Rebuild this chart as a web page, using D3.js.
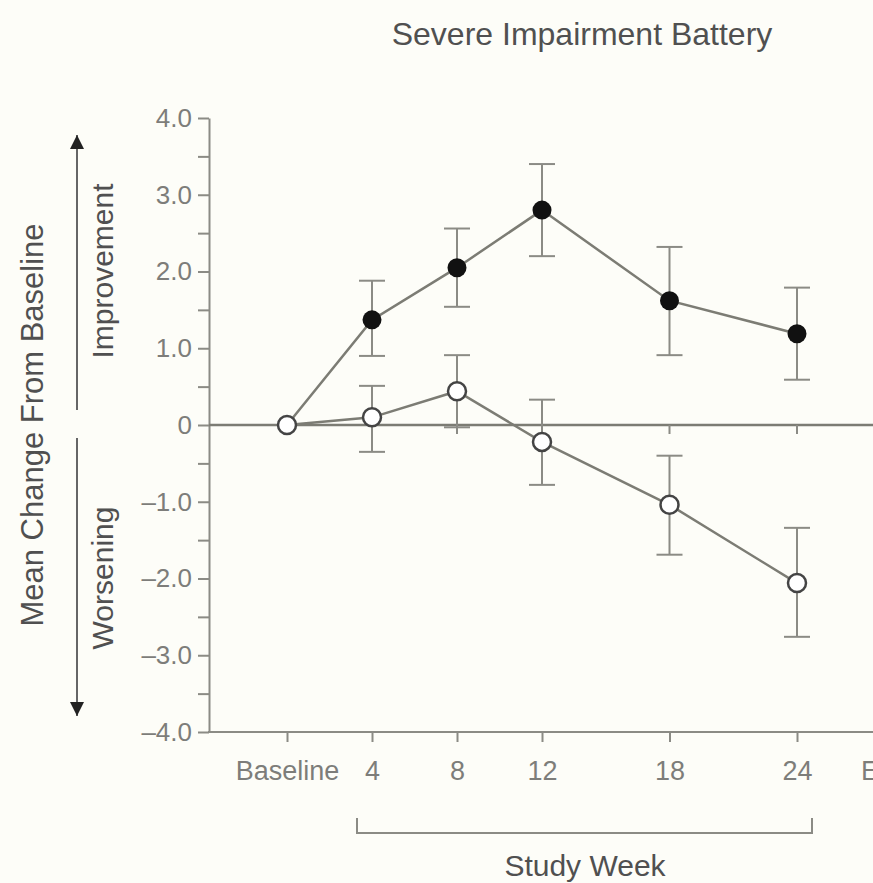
<!DOCTYPE html>
<html>
<head>
<meta charset="utf-8">
<script src="https://cdn.jsdelivr.net/npm/d3@7/dist/d3.min.js"></script>
<style>
  html, body { margin: 0; padding: 0; background: #fdfdf8; }
  svg { display: block; font-family: "Liberation Sans", Arial, Helvetica, sans-serif; }
</style>
</head>
<body>
<svg id="chart" width="873" height="883"></svg>
<script>
// ---- data ----
const weeks = [0, 4, 8, 12, 18, 24];
const weekLabels = ["Baseline", "4", "8", "12", "18", "24"];
const extraLabel = { week: 29.5, label: "Endpoint" };

const drugMean  = [0, 1.37, 2.05, 2.80, 1.62, 1.19];
const drugUpper = [null, 1.88, 2.56, 3.40, 2.32, 1.79];
const drugLower = [null, 0.90, 1.54, 2.20, 0.91, 0.59];

const placeboMean  = [0, 0.10, 0.44, -0.22, -1.04, -2.06];
const placeboUpper = [null, 0.51, 0.91, 0.33, -0.40, -1.34];
const placeboLower = [null, -0.35, -0.03, -0.78, -1.69, -2.76];

const yMajorTicks = [-4, -3, -2, -1, 0, 1, 2, 3, 4];
const yMinorTicks = [-3.5, -2.5, -1.5, -0.5, 0.5, 1.5, 2.5, 3.5];

const title = "Severe Impairment Battery";
const yTitle = "Mean Change From Baseline";
const xTitle = "Study Week";
const upLabel = "Improvement";
const downLabel = "Worsening";

// ---- layout ----
const W = 873, H = 883;
const axisX = 209;
const svg = d3.select("#chart");
svg.append("rect").attr("width", W).attr("height", H).attr("fill", "#fdfdf8");

const x = d3.scaleLinear().domain([0, 24]).range([287, 797]);
const y = d3.scaleLinear().domain([-4, 4]).range([732, 118]);

const axisColor = "#8b8b85";
const tickTextColor = "#7d7d7a";
const labelColor = "#505050";
const lineColor = "#7c7c74";

// title
svg.append("text").attr("x", 582).attr("y", 45).attr("text-anchor", "middle")
  .attr("font-size", 32).attr("fill", labelColor).text(title);

// y axis: minor ticks
const gMinor = svg.append("g").attr("transform", `translate(${axisX},0)`)
  .call(d3.axisLeft(y).tickValues(yMinorTicks).tickSize(11).tickFormat(""));
gMinor.select(".domain").remove();

const fmt = v => v === 0 ? "0" : (v < 0 ? "\u2013" + Math.abs(v).toFixed(1) : v.toFixed(1));
const gY = svg.append("g").attr("transform", `translate(${axisX},0)`)
  .call(d3.axisLeft(y).tickValues(yMajorTicks).tickSize(11).tickSizeOuter(0).tickPadding(6).tickFormat(fmt));
gY.selectAll(".tick text").attr("font-size", 26).attr("fill", tickTextColor)
  .attr("font-family", "Liberation Sans, Arial, sans-serif");
[gY, gMinor].forEach(g => {
  g.selectAll("line").attr("stroke", axisColor).attr("stroke-width", 2);
  g.selectAll(".domain").attr("stroke", axisColor).attr("stroke-width", 2);
});

// bottom axis
svg.append("line").attr("x1", axisX - 1).attr("x2", W).attr("y1", y(-4)).attr("y2", y(-4))
  .attr("stroke", axisColor).attr("stroke-width", 2);
const xTickVals = weeks.concat([extraLabel.week]);
const xTickText = weekLabels.concat([extraLabel.label]);
const gX = svg.append("g").attr("transform", `translate(0,${y(-4)})`)
  .call(d3.axisBottom(x).tickValues(xTickVals).tickSize(10).tickPadding(19)
    .tickFormat((d, i) => xTickText[i]));
gX.select(".domain").remove();
gX.selectAll("line").attr("stroke", axisColor).attr("stroke-width", 2);
gX.selectAll(".tick text").attr("font-size", 27).attr("fill", tickTextColor)
  .attr("font-family", "Liberation Sans, Arial, sans-serif");

// zero line and ticks on it
svg.append("line").attr("x1", axisX).attr("x2", W).attr("y1", y(0)).attr("y2", y(0))
  .attr("stroke", lineColor).attr("stroke-width", 2.5);
svg.append("g").selectAll("line").data(weeks).join("line")
  .attr("x1", d => x(d)).attr("x2", d => x(d))
  .attr("y1", y(0)).attr("y2", y(0) + 9)
  .attr("stroke", axisColor).attr("stroke-width", 2);

// bracket + x title
const bx1 = x(4) - 15, bx2 = x(24) + 15;
svg.append("path").attr("d", `M${bx1},818 V833 H${bx2} V818`)
  .attr("fill", "none").attr("stroke", axisColor).attr("stroke-width", 2);
svg.append("text").attr("x", 585).attr("y", 876).attr("text-anchor", "middle")
  .attr("font-size", 30).attr("fill", labelColor).text(xTitle);

// y titles
svg.append("text").attr("transform", `translate(43,${y(0)}) rotate(-90)`)
  .attr("text-anchor", "middle").attr("font-size", 31).attr("fill", labelColor).text(yTitle);
svg.append("text").attr("transform", `translate(113,271) rotate(-90)`)
  .attr("text-anchor", "middle").attr("font-size", 30).attr("fill", labelColor).text(upLabel);
svg.append("text").attr("transform", `translate(113,578) rotate(-90)`)
  .attr("text-anchor", "middle").attr("font-size", 30).attr("fill", labelColor).text(downLabel);

// arrows
const defs = svg.append("defs");
defs.append("marker").attr("id", "arr").attr("viewBox", "0 0 10 10")
  .attr("refX", 10).attr("refY", 5).attr("markerWidth", 14).attr("markerHeight", 14)
  .attr("markerUnits", "userSpaceOnUse").attr("orient", "auto")
  .append("path").attr("d", "M0,0 L10,5 L0,10 Z").attr("fill", "#222");
svg.append("line").attr("x1", 77).attr("x2", 77).attr("y1", 410).attr("y2", 135)
  .attr("stroke", "#666").attr("stroke-width", 2).attr("marker-end", "url(#arr)");
svg.append("line").attr("x1", 77).attr("x2", 77).attr("y1", 438).attr("y2", 716)
  .attr("stroke", "#666").attr("stroke-width", 2).attr("marker-end", "url(#arr)");

// series drawing
function drawSeries(mean, upper, lower, filled) {
  const pts = weeks.map((w, i) => ({ w, m: mean[i], u: upper[i], l: lower[i] }));
  const eb = pts.filter(p => p.u !== null);
  const g = svg.append("g");
  g.selectAll("line.v").data(eb).join("line")
    .attr("x1", p => x(p.w)).attr("x2", p => x(p.w))
    .attr("y1", p => y(p.u)).attr("y2", p => y(p.l))
    .attr("stroke", axisColor).attr("stroke-width", 2);
  ["u", "l"].forEach(k => {
    g.selectAll("line.c" + k).data(eb).join("line")
      .attr("x1", p => x(p.w) - 13).attr("x2", p => x(p.w) + 13)
      .attr("y1", p => y(p[k])).attr("y2", p => y(p[k]))
      .attr("stroke", axisColor).attr("stroke-width", 2);
  });
  const line = d3.line().x(p => x(p.w)).y(p => y(p.m));
  g.append("path").datum(pts).attr("d", line)
    .attr("fill", "none").attr("stroke", lineColor).attr("stroke-width", 2.5);
  return { g, pts };
}
const dr = drawSeries(drugMean, drugUpper, drugLower, true);
const pl = drawSeries(placeboMean, placeboUpper, placeboLower, false);

dr.g.selectAll("circle").data(dr.pts.slice(1)).join("circle")
  .attr("cx", p => x(p.w)).attr("cy", p => y(p.m)).attr("r", 9.5)
  .attr("fill", "#111");
pl.g.selectAll("circle").data(pl.pts).join("circle")
  .attr("cx", p => x(p.w)).attr("cy", p => y(p.m)).attr("r", 9)
  .attr("fill", "#fff").attr("stroke", "#444").attr("stroke-width", 2.5);
</script>
</body>
</html>
